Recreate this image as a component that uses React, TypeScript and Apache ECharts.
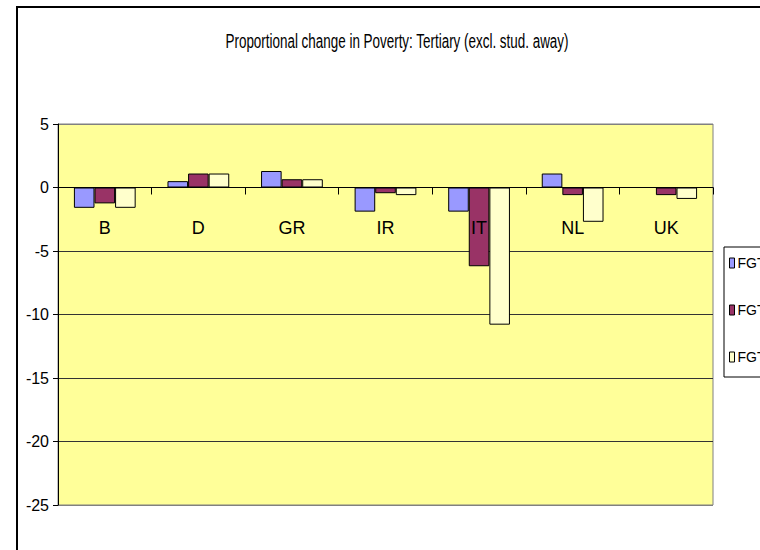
import React, { useEffect, useRef } from "react";
import * as echarts from "echarts";

const categories = ["B", "D", "GR", "IR", "IT", "NL", "UK"];
const seriesNames = ["FGT0", "FGT1", "FGT2"];
const fgt0 = [-1.6, 0.5, 1.3, -1.9, -1.9, 1.1, 0];
const fgt1 = [-1.25, 1.1, 0.65, -0.45, -6.2, -0.6, -0.6];
const fgt2 = [-1.6, 1.1, 0.65, -0.6, -10.8, -2.7, -0.9];
const seriesColors = ["#9999FF", "#993366", "#FFFFCC"];
const titleText = "Proportional change in Poverty: Tertiary (excl. stud. away)";

const FONT = "'Liberation Sans', Arial, sans-serif";

const GRID_TOP = 124;
const GRID_BOTTOM_Y = 505;
const Y_MIN = -25;
const Y_MAX = 5;

export default function App() {
  const ref = useRef<HTMLDivElement>(null);
  useEffect(() => {
    if (!ref.current) return;
    const chart = echarts.init(ref.current, undefined, { renderer: "svg" });
    const values = [fgt0, fgt1, fgt2];
    const zeroY = GRID_TOP + ((Y_MAX - 0) / (Y_MAX - Y_MIN)) * (GRID_BOTTOM_Y - GRID_TOP);
    chart.setOption({
      animation: false,
      backgroundColor: "#FFFFFF",
      textStyle: { fontFamily: FONT },
      graphic: [
        {
          type: "rect",
          shape: { x: 17, y: 7, width: 800, height: 600 },
          style: { fill: "none", stroke: "#000", lineWidth: 2 },
          silent: true,
          z: 100,
        },
        {
          type: "text",
          x: 397,
          y: 41,
          scaleX: 0.64,
          style: {
            text: titleText,
            fontFamily: FONT,
            fontSize: 21,
            fill: "#000",
            textAlign: "center",
            textVerticalAlign: "middle",
          },
          silent: true,
        },
      ],
      legend: {
        orient: "vertical",
        left: 724,
        top: 247,
        padding: [9, 40, 13, 5],
        itemWidth: 5,
        itemHeight: 10,
        itemGap: 33,
        backgroundColor: "#FFFFFF",
        borderColor: "#000",
        borderWidth: 1,
        icon: "rect",
        textStyle: { fontFamily: FONT, fontSize: 14, color: "#000", padding: [0, 0, 0, -2] },
        data: seriesNames.map((n, i) => ({
          name: n,
          itemStyle: { color: seriesColors[i], borderColor: "#000", borderWidth: 1 },
        })),
      },
      grid: {
        left: 58,
        right: 47,
        top: GRID_TOP,
        bottom: 550 - GRID_BOTTOM_Y,
        show: true,
        backgroundColor: "#FFFF99",
        borderColor: "#808080",
        borderWidth: 1,
        containLabel: false,
      },
      xAxis: {
        type: "category",
        data: categories,
        position: "bottom",
        offset: -(GRID_BOTTOM_Y - zeroY),
        z: 10,
        axisLine: { onZero: false, lineStyle: { color: "#000", width: 1 } },
        axisTick: { show: true, alignWithLabel: false, length: 7, lineStyle: { color: "#000" } },
        axisLabel: { margin: 31, fontFamily: FONT, fontSize: 18, color: "#000" },
        splitLine: { show: false },
      },
      yAxis: {
        type: "value",
        min: Y_MIN,
        max: Y_MAX,
        interval: 5,
        axisLine: { show: true, lineStyle: { color: "#000", width: 1 } },
        axisTick: { show: true, length: 5, lineStyle: { color: "#000" } },
        axisLabel: { margin: 9, fontFamily: FONT, fontSize: 16, color: "#000" },
        splitLine: {
          show: true,
          lineStyle: {
            color: ["#808080", "#333333", "#333333", "#333333", "#333333", "#333333", "#808080"],
            width: 1,
          },
        },
      },
      series: seriesNames.map((n, i) => ({
        name: n,
        type: "bar",
        data: values[i],
        barGap: "0%",
        barCategoryGap: "34%",
        itemStyle: { color: seriesColors[i], borderColor: "#000", borderWidth: 1 },
      })),
    });
    return () => chart.dispose();
  }, []);
  return (
    <div
      ref={ref}
      style={{ position: "absolute", left: 0, top: 0, width: 760, height: 550 }}
    />
  );
}
